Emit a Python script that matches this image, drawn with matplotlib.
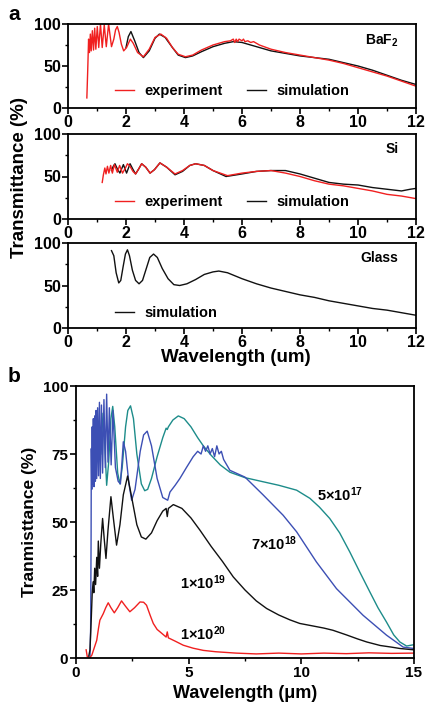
import matplotlib
matplotlib.use("Agg")
import matplotlib.pyplot as plt
from matplotlib.ticker import MultipleLocator

# ── Data ─────────────────────────────────────────────────────────────────────
# (a) BaF2
baf2_exp_x = [0.65, 0.68, 0.71, 0.74, 0.77, 0.80, 0.84, 0.88, 0.92, 0.96, 1.01, 1.06,
              1.12, 1.18, 1.25, 1.32, 1.40, 1.50, 1.58, 1.64, 1.70, 1.76, 1.84, 1.92,
              2.02, 2.15, 2.25, 2.40, 2.60, 2.80, 3.00, 3.20, 3.40, 3.60, 3.80, 4.05,
              4.30, 4.60, 5.00, 5.40, 5.60, 5.70, 5.75, 5.80, 5.85, 5.90, 6.00, 6.05,
              6.10, 6.20, 6.30, 6.40, 6.60, 7.00, 7.50, 8.00, 8.50, 9.00, 9.50, 10.0,
              10.5, 11.0, 11.5, 12.0]
baf2_exp_y = [12, 45, 82, 66, 88, 68, 92, 69, 95, 70, 97, 72,
              100, 72, 99, 73, 100, 73, 82, 93, 97, 90, 76, 68,
              72, 82, 77, 66, 61, 70, 84, 88, 83, 72, 64, 61,
              63, 69, 75, 79, 80, 82, 78, 82, 79, 82, 80, 82,
              79, 80, 78, 79, 75, 70, 66, 63, 60, 57, 53, 48,
              43, 38, 32, 26]
baf2_sim_x = [2.00, 2.08, 2.17, 2.30, 2.45, 2.60, 2.80, 3.00, 3.15, 3.35, 3.60, 3.80,
              4.05, 4.30, 4.60, 5.00, 5.40, 5.70, 6.00, 6.50, 7.00, 7.50, 8.00, 8.50,
              9.00, 9.50, 10.0, 10.5, 11.0, 11.5, 12.0]
baf2_sim_y = [72, 85, 91, 80, 66, 60, 68, 83, 88, 84, 72, 63,
              60, 62, 67, 73, 77, 79, 78, 73, 68, 65, 62, 60,
              58, 54, 50, 45, 39, 33, 28]

# (a) Si
si_exp_x = [1.18, 1.22, 1.27, 1.31, 1.36, 1.41, 1.47, 1.53, 1.60, 1.70, 1.78, 1.88,
            1.98, 2.05, 2.14, 2.24, 2.33, 2.44, 2.54, 2.68, 2.83, 2.98, 3.17, 3.40,
            3.69, 3.95, 4.20, 4.40, 4.70, 5.00, 5.50, 6.00, 6.50, 7.00, 7.50, 8.00,
            8.50, 9.00, 9.50, 10.0, 10.5, 11.0, 11.5, 12.0]
si_exp_y = [43, 52, 60, 53, 62, 54, 63, 54, 64, 55, 63, 54,
            60, 65, 62, 56, 53, 59, 65, 61, 54, 58, 66, 61,
            53, 57, 63, 65, 63, 57, 51, 54, 56, 57, 54, 50,
            45, 41, 39, 36, 33, 29, 27, 24]
si_sim_x = [1.50, 1.56, 1.62, 1.70, 1.79, 1.91, 2.02, 2.14, 2.23, 2.33, 2.44, 2.54,
            2.68, 2.83, 2.98, 3.17, 3.40, 3.69, 3.95, 4.20, 4.40, 4.70, 5.00, 5.45,
            6.00, 6.50, 7.00, 7.50, 8.00, 8.50, 9.00, 9.50, 10.0, 10.5, 11.0, 11.5,
            11.8, 12.0]
si_sim_y = [57, 62, 65, 59, 54, 64, 54, 65, 59, 53, 59, 65,
            61, 54, 58, 66, 61, 52, 56, 63, 65, 63, 57, 50,
            53, 56, 57, 57, 53, 48, 43, 41, 40, 37, 35, 33,
            35, 36]

# (a) Glass
glass_x = [1.50, 1.58, 1.66, 1.75, 1.82, 1.90, 1.98, 2.05, 2.12, 2.22, 2.33, 2.45,
           2.57, 2.70, 2.82, 2.95, 3.08, 3.25, 3.45, 3.65, 3.85, 4.10, 4.40, 4.70,
           5.00, 5.20, 5.50, 6.00, 6.50, 7.00, 7.50, 8.00, 8.50, 9.00, 9.50, 10.0,
           10.5, 11.0, 11.5, 12.0]
glass_y = [91, 85, 65, 53, 56, 72, 87, 92, 85, 68, 56, 52,
           56, 70, 83, 87, 83, 70, 58, 51, 50, 52, 57, 63,
           66, 67, 65, 58, 52, 47, 43, 39, 36, 32, 29, 26,
           23, 21, 18, 15]

# (b) doping series
n5e17_x = [1.10, 1.20, 1.28, 1.36, 1.45, 1.55, 1.63, 1.72, 1.85, 1.95, 2.05, 2.20,
           2.30, 2.42, 2.55, 2.70, 2.90, 3.05, 3.18, 3.35, 3.60, 3.85, 4.00, 4.05,
           4.10, 4.30, 4.54, 4.80, 5.10, 5.40, 5.65, 6.00, 6.40, 6.83, 7.50, 8.30,
           9.00, 9.79, 10.38, 10.80, 11.26, 11.70, 12.15, 12.60, 13.04, 13.40, 13.78,
           14.10, 14.37, 14.67, 15.0]
n5e17_y = [75, 90, 78, 63.5, 72, 88, 92.5, 85, 68, 64, 70, 85,
           91, 92.7, 88, 75, 64, 61.5, 62, 66, 74, 81, 84.5, 84,
           85, 87.5, 89, 88, 85, 81, 78, 74.5, 71, 68.3, 66.3, 64.8,
           63.5, 61.7, 58.7, 55.5, 51.3, 46, 39, 31.5, 24.3, 18.5, 13.2,
           8.5, 5.9, 4.4, 4.9]

n7e18_x = [0.62, 0.65, 0.67, 0.68, 0.70, 0.72, 0.74, 0.77, 0.80, 0.83, 0.86, 0.89,
           0.92, 0.96, 1.00, 1.04, 1.08, 1.13, 1.18, 1.24, 1.30, 1.36, 1.42, 1.48,
           1.56, 1.64, 1.75, 1.87, 1.97, 2.04, 2.10, 2.20, 2.35, 2.47, 2.62, 2.85,
           3.00, 3.16, 3.35, 3.60, 3.85, 4.07, 4.17, 4.40, 4.61, 4.90, 5.20, 5.40,
           5.55, 5.65, 5.75, 5.85, 5.95, 6.05, 6.15, 6.25, 6.35, 6.45, 6.55, 6.83,
           7.50, 8.30, 9.19, 9.79, 10.67, 11.56, 12.74, 13.78, 14.52, 15.0]
n7e18_y = [0, 11, 45, 77, 62, 85, 64, 88, 63, 89, 65, 91,
           66, 92, 67, 94, 66, 93, 68, 95, 70, 97, 72, 92,
           71, 91, 70, 65, 64, 72, 79.5, 76, 64, 58, 62, 76,
           82, 83.4, 78, 66, 59, 58, 61, 63.5, 66, 70, 74, 76,
           75, 78, 76, 78, 75, 77, 74, 78, 75, 76, 73, 69,
           66.5, 60, 52.5, 46.4, 35.3, 25.5, 15.7, 8.4, 4, 3.5]

n1e19_x = [0.55, 0.62, 0.68, 0.72, 0.76, 0.79, 0.83, 0.87, 0.92, 0.96, 0.99, 1.04,
           1.10, 1.18, 1.25, 1.33, 1.42, 1.55, 1.65, 1.80, 1.95, 2.10, 2.29, 2.45,
           2.70, 2.90, 3.10, 3.35, 3.60, 3.85, 4.00, 4.05, 4.10, 4.32, 4.70, 5.10,
           5.50, 6.00, 6.50, 6.98, 7.50, 8.00, 8.46, 9.00, 9.50, 9.93, 10.5, 11.0,
           11.4, 12.0, 12.5, 12.9, 13.5, 14.0, 14.37, 15.0]
n1e19_y = [0, 3, 15, 24, 28, 24, 33, 27, 37, 30, 43, 33,
           42, 51.3, 44, 36.6, 47, 59.3, 52, 41.5, 49, 60, 66.9, 60,
           49, 44.5, 43.7, 46, 50.5, 54, 55, 52, 55, 56.4, 55, 51.5,
           47, 41, 35.5, 29.8, 25, 21, 18.2, 15.8, 14, 12.7, 11.8, 11,
           10.2, 8.5, 7, 5.9, 4.6, 4, 3.5, 3]

n1e20_x = [0.45, 0.50, 0.60, 0.70, 0.80, 0.92, 1.00, 1.06, 1.21, 1.32, 1.43, 1.55,
           1.70, 1.85, 2.02, 2.20, 2.39, 2.60, 2.84, 3.00, 3.13, 3.30, 3.43, 3.60,
           3.73, 4.00, 4.05, 4.10, 4.40, 4.76, 5.20, 5.65, 6.20, 7.10, 8.00, 9.00,
           10.0, 11.0, 12.0, 13.0, 14.0, 15.0]
n1e20_y = [3, 0.5, 0, 1, 3.5, 6.5, 11, 13.9, 16.3, 18.5, 20.3, 18.5,
           16.6, 18.5, 21, 19, 17, 18.5, 20.6, 20.5, 19.4, 15.5, 12.7, 10.5,
           9.6, 7.7, 9.6, 7.4, 6.2, 4.7, 3.6, 2.8, 2.3, 1.8, 1.5, 1.8,
           1.5, 1.8, 1.6, 1.9, 1.7, 1.8]

# ── Theming ──────────────────────────────────────────────────────────────────
RED = "#f02020"
BLACK = "#111111"
TEAL = "#1d8c8a"
BLUE = "#3c4fb4"

plt.rcParams.update(
    {
        "font.family": ["Liberation Sans", "DejaVu Sans"],
        "font.weight": "bold",
        "axes.labelweight": "bold",
        "axes.linewidth": 1.3,
        "mathtext.fontset": "custom",
        "mathtext.rm": "Liberation Sans:bold",
        "mathtext.bf": "Liberation Sans:bold",
        "mathtext.it": "Liberation Sans:bold",
        "xtick.direction": "out",
        "ytick.direction": "out",
        "xtick.major.width": 1.2,
        "ytick.major.width": 1.2,
        "xtick.minor.width": 1.0,
        "ytick.minor.width": 1.0,
        "xtick.major.size": 4,
        "ytick.major.size": 4,
        "xtick.minor.size": 2.5,
        "ytick.minor.size": 2.5,
    }
)

W, H = 427, 705
fig = plt.figure(figsize=(W / 100, H / 100), dpi=100)


def rect(left, top, right, bottom):
    return [left / W, 1 - bottom / H, (right - left) / W, (bottom - top) / H]


def style_a(ax):
    ax.set_xlim(0, 12)
    ax.set_ylim(0, 100)
    ax.xaxis.set_major_locator(MultipleLocator(2))
    ax.xaxis.set_minor_locator(MultipleLocator(1))
    ax.yaxis.set_major_locator(MultipleLocator(50))
    ax.yaxis.set_minor_locator(MultipleLocator(25))
    ax.tick_params(labelsize=11.5, pad=1)


# ── Panel a ──────────────────────────────────────────────────────────────────
ax1 = fig.add_axes(rect(68, 24, 416, 108))
ax1.plot(baf2_sim_x, baf2_sim_y, color=BLACK, lw=1.0, label="simulation")
ax1.plot(baf2_exp_x, baf2_exp_y, color=RED, lw=1.0, label="experiment")
style_a(ax1)
ax1.text(0.95, 0.8, r"BaF$_{2}$", transform=ax1.transAxes, ha="right",
         va="center", fontsize=10)

ax2 = fig.add_axes(rect(68, 134, 416, 219))
ax2.plot(si_sim_x, si_sim_y, color=BLACK, lw=1.0, label="simulation")
ax2.plot(si_exp_x, si_exp_y, color=RED, lw=1.0, label="experiment")
style_a(ax2)
ax2.text(0.95, 0.82, "Si", transform=ax2.transAxes, ha="right",
         va="center", fontsize=10)

ax3 = fig.add_axes(rect(68, 243, 416, 328))
ax3.plot(glass_x, glass_y, color=BLACK, lw=1.0, label="simulation")
style_a(ax3)
ax3.text(0.95, 0.82, "Glass", transform=ax3.transAxes, ha="right",
         va="center", fontsize=10)

for ax in (ax1, ax2):
    h, l = ax.get_legend_handles_labels()
    ax.legend(h[::-1], l[::-1], ncol=2, frameon=False, loc="center left",
              bbox_to_anchor=(0.135, 0.2), fontsize=10.5, handlelength=1.3,
              handletextpad=0.7, columnspacing=1.7, borderpad=0, borderaxespad=0)
ax3.legend(frameon=False, loc="center left", bbox_to_anchor=(0.135, 0.18),
           fontsize=10.5, handlelength=1.3, handletextpad=0.7, borderpad=0,
           borderaxespad=0)

fig.text(20 / W, 1 - 178 / H, "Transmittance (%)", rotation=90, ha="center",
         va="center", fontsize=13.5)
fig.text(236 / W, 1 - 358 / H, "Wavelength (um)", ha="center", va="center",
         fontsize=13.5)
fig.text(14 / W, 1 - 14 / H, "a", ha="center", va="center", fontsize=15)

# ── Panel b ──────────────────────────────────────────────────────────────────
axb = fig.add_axes(rect(76, 386, 414, 658))
axb.plot(n5e17_x, n5e17_y, color=TEAL, lw=1.0)
axb.plot(n7e18_x, n7e18_y, color=BLUE, lw=1.0)
axb.plot(n1e19_x, n1e19_y, color=BLACK, lw=1.0)
axb.plot(n1e20_x, n1e20_y, color=RED, lw=1.0)
axb.set_xlim(0, 15)
axb.set_ylim(0, 100)
axb.xaxis.set_major_locator(MultipleLocator(5))
axb.xaxis.set_minor_locator(MultipleLocator(2.5))
axb.yaxis.set_major_locator(MultipleLocator(25))
axb.yaxis.set_minor_locator(MultipleLocator(12.5))
axb.tick_params(labelsize=11, pad=1.5)
axb.set_ylabel("Tranmisttance (%)", fontsize=12.5, labelpad=4)
axb.set_xlabel("Wavelength (\u03bcm)", fontsize=13, labelpad=4)

axb.text(10.7, 60, r"5×10$^{17}$", fontsize=10.5, va="center")
axb.text(7.75, 42, r"7×10$^{18}$", fontsize=10.5, va="center")
axb.text(4.6, 27.5, r"1×10$^{19}$", fontsize=10.5, va="center")
axb.text(4.6, 9, r"1×10$^{20}$", fontsize=10.5, va="center")

fig.text(14 / W, 1 - 377 / H, "b", ha="center", va="center", fontsize=15)

fig.savefig("out.png", dpi=100)
